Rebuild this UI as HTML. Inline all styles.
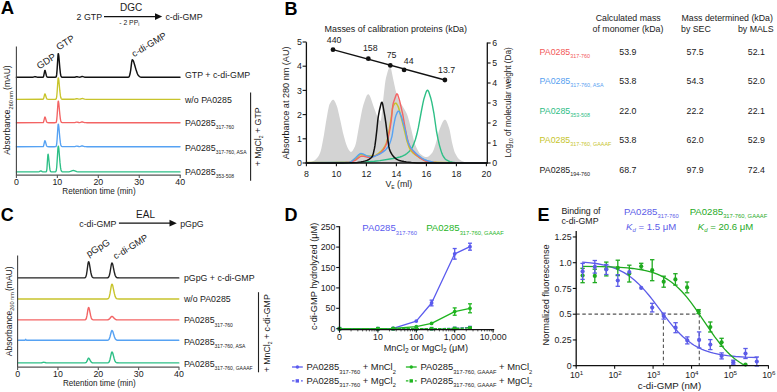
<!DOCTYPE html>
<html><head><meta charset="utf-8"><style>
html,body{margin:0;padding:0;background:#fff;width:777px;height:392px;overflow:hidden}
svg{display:block}
</style></head><body>
<svg width="777" height="392" viewBox="0 0 777 392" font-family="Liberation Sans, sans-serif">
<rect width="777" height="392" fill="#fff"/>
<text x="0.80" y="14.40" font-size="18.5" fill="#000" font-weight="bold">A</text>
<text x="76.60" y="19.80" font-size="8.8" fill="#1a1a1a" >2 GTP</text>
<line x1="104.00" y1="16.60" x2="157.00" y2="16.60" stroke="#111" stroke-width="1.2" />
<path d="M155,13.2 L162.2,16.6 L155,20 Z" fill="#111"/>
<text x="131.20" y="11.20" font-size="10" fill="#1a1a1a" text-anchor="middle" >DGC</text>
<text x="119.30" y="24.90" font-size="6.8" fill="#1a1a1a" >- 2 PP<tspan font-size="4.5" dy="1.4">i</tspan></text>
<text x="165.40" y="19.80" font-size="8.8" fill="#1a1a1a" >c-di-GMP</text>
<path d="M16.4,77.30 L32.2,77.29 L33.2,77.18 L35.0,76.60 L35.6,76.69 L36.9,77.14 L37.7,77.27 L42.8,77.27 L43.2,77.10 L43.6,76.37 L44.0,74.46 L44.7,70.77 L44.9,70.40 L45.1,70.58 L45.3,71.08 L46.5,75.98 L46.9,76.78 L47.3,77.13 L47.9,77.28 L49.0,77.30 L55.1,77.30 L55.9,77.14 L56.3,76.51 L56.7,74.42 L57.1,69.57 L58.0,55.23 L58.2,53.65 L58.4,53.64 L58.8,55.93 L59.8,67.82 L60.4,73.33 L60.8,75.41 L61.2,76.50 L61.6,77.01 L62.3,77.25 L73.7,77.28 L74.8,77.18 L76.4,76.76 L77.0,76.70 L78.8,77.10 L79.7,77.16 L80.5,77.00 L81.7,76.57 L82.3,76.50 L82.9,76.62 L84.6,77.17 L86.0,77.29 L126.8,77.30 L128.4,77.18 L129.0,76.80 L129.4,76.15 L130.0,74.04 L130.7,70.11 L131.7,61.86 L132.1,60.04 L132.3,59.80 L132.5,59.84 L132.9,60.20 L133.3,60.88 L133.7,61.86 L134.3,63.74 L136.2,70.33 L137.4,73.75 L138.0,74.93 L138.6,75.79 L139.5,76.53 L140.3,76.94 L141.5,77.20 L143.8,77.29 L180.0,77.30" stroke="#111" stroke-width="1.45" fill="none" stroke-linejoin="round" stroke-linecap="round" />
<path d="M16.4,99.30 L42.8,99.28 L43.2,99.15 L43.6,98.57 L44.7,94.19 L44.9,93.90 L45.1,94.04 L45.3,94.43 L46.5,98.27 L46.9,98.89 L47.3,99.17 L48.3,99.30 L54.7,99.30 L55.5,99.28 L55.9,99.16 L56.3,98.59 L56.7,96.69 L57.1,92.29 L58.0,79.27 L58.2,77.83 L58.4,77.82 L58.8,79.91 L59.8,90.70 L60.4,95.70 L60.8,97.58 L61.2,98.58 L61.6,99.03 L62.3,99.25 L73.7,99.28 L74.8,99.18 L76.4,98.76 L77.0,98.70 L78.8,99.10 L79.7,99.16 L80.5,99.00 L81.7,98.57 L82.3,98.50 L82.9,98.62 L84.6,99.17 L86.4,99.30 L180.0,99.30" stroke="#c8c42c" stroke-width="1.35" fill="none" stroke-linejoin="round" stroke-linecap="round" />
<path d="M16.4,122.70 L42.8,122.68 L43.2,122.54 L43.6,121.93 L44.7,117.31 L44.9,117.00 L45.1,117.15 L45.3,117.56 L46.5,121.61 L46.9,122.27 L47.3,122.56 L48.3,122.70 L54.5,122.70 L55.5,122.68 L55.9,122.56 L56.3,121.99 L56.7,120.09 L57.1,115.69 L58.0,102.67 L58.2,101.23 L58.4,101.22 L58.8,103.31 L59.8,114.10 L60.4,119.10 L60.8,120.98 L61.2,121.98 L61.6,122.43 L62.3,122.65 L73.7,122.68 L74.8,122.58 L76.4,122.16 L77.0,122.10 L78.8,122.50 L79.7,122.56 L80.5,122.40 L81.7,121.97 L82.3,121.90 L82.9,122.02 L84.6,122.57 L86.4,122.70 L180.0,122.70" stroke="#f36464" stroke-width="1.35" fill="none" stroke-linejoin="round" stroke-linecap="round" />
<path d="M16.4,146.70 L42.8,146.68 L43.2,146.53 L43.6,145.89 L44.7,141.02 L44.9,140.70 L45.1,140.85 L45.3,141.29 L46.5,145.55 L46.9,146.25 L47.3,146.55 L48.3,146.70 L54.5,146.70 L55.5,146.68 L55.9,146.55 L56.3,145.95 L56.7,143.96 L57.1,139.33 L58.0,125.65 L58.2,124.14 L58.4,124.13 L58.8,126.32 L59.8,137.66 L60.4,142.92 L60.8,144.89 L61.2,145.94 L61.6,146.42 L62.3,146.65 L73.7,146.68 L74.8,146.58 L76.4,146.16 L77.0,146.10 L78.8,146.50 L79.7,146.56 L80.5,146.40 L81.7,145.97 L82.3,145.90 L82.9,146.02 L84.6,146.57 L86.4,146.70 L180.0,146.70" stroke="#56a2f3" stroke-width="1.35" fill="none" stroke-linejoin="round" stroke-linecap="round" />
<path d="M16.4,171.90 L38.3,171.89 L39.3,171.70 L40.4,171.04 L40.8,170.90 L41.2,171.00 L42.2,171.66 L42.8,171.85 L45.5,171.90 L46.1,171.81 L46.3,171.66 L46.5,171.30 L46.9,169.17 L47.7,157.12 L47.9,154.82 L48.1,154.22 L48.3,154.85 L48.5,156.28 L49.6,167.26 L50.0,169.91 L50.4,171.21 L50.8,171.70 L51.4,171.88 L54.9,171.89 L55.3,171.86 L55.7,171.69 L56.1,171.02 L56.3,170.27 L56.7,167.24 L57.1,161.53 L57.8,150.35 L58.0,147.63 L58.2,146.23 L58.4,146.23 L58.8,148.41 L60.0,162.66 L60.6,167.92 L61.0,169.92 L61.4,171.02 L61.9,171.55 L62.5,171.83 L66.6,171.90 L69.0,171.80 L70.5,171.45 L72.5,170.54 L73.3,170.40 L74.1,170.54 L76.8,171.65 L77.8,171.82 L79.3,171.89 L180.0,171.90" stroke="#2dbf86" stroke-width="1.35" fill="none" stroke-linejoin="round" stroke-linecap="round" />
<line x1="16.40" y1="46.60" x2="16.40" y2="175.60" stroke="#444" stroke-width="1.1" />
<line x1="16.40" y1="175.10" x2="180.70" y2="175.10" stroke="#555" stroke-width="1.3" />
<line x1="16.40" y1="175.10" x2="16.40" y2="177.90" stroke="#555" stroke-width="1.1" />
<text x="16.40" y="184.50" font-size="8.8" fill="#1a1a1a" text-anchor="middle" >0</text>
<line x1="57.35" y1="175.10" x2="57.35" y2="177.90" stroke="#555" stroke-width="1.1" />
<text x="57.35" y="184.50" font-size="8.8" fill="#1a1a1a" text-anchor="middle" >10</text>
<line x1="98.30" y1="175.10" x2="98.30" y2="177.90" stroke="#555" stroke-width="1.1" />
<text x="98.30" y="184.50" font-size="8.8" fill="#1a1a1a" text-anchor="middle" >20</text>
<line x1="139.25" y1="175.10" x2="139.25" y2="177.90" stroke="#555" stroke-width="1.1" />
<text x="139.25" y="184.50" font-size="8.8" fill="#1a1a1a" text-anchor="middle" >30</text>
<line x1="180.20" y1="175.10" x2="180.20" y2="177.90" stroke="#555" stroke-width="1.1" />
<text x="180.20" y="184.50" font-size="8.8" fill="#1a1a1a" text-anchor="middle" >40</text>
<text x="62.30" y="193.80" font-size="8.8" fill="#1a1a1a" textLength="73.3" lengthAdjust="spacingAndGlyphs">Retention time (min)</text>
<text transform="translate(10.2,154.8) rotate(-90)" font-size="8.5" fill="#1a1a1a">Absorbance<tspan font-size="5.5" dy="2.3">260 nm</tspan><tspan dy="-2.3" dx="1.2">(mAU)</tspan></text>
<text transform="translate(39.2,69.4) rotate(-32)" font-size="9.5" fill="#1a1a1a">GDP</text>
<text transform="translate(58.8,50.6) rotate(-32)" font-size="9.5" fill="#1a1a1a">GTP</text>
<text transform="translate(134,57.2) rotate(-31)" font-size="9.2" fill="#1a1a1a">c-di-GMP</text>
<text x="185.00" y="78.40" font-size="8.8" fill="#1a1a1a" >GTP + c-di-GMP</text>
<text x="185.00" y="102.90" font-size="8.8" fill="#1a1a1a" >w/o PA0285</text>
<text x="185.00" y="126.20" font-size="8.8" fill="#1a1a1a" >PA0285<tspan font-size="5" dy="3.2">317-760</tspan></text>
<text x="185.00" y="151.00" font-size="8.8" fill="#1a1a1a" >PA0285<tspan font-size="5" dy="3.4">317-760, ASA</tspan></text>
<text x="185.00" y="174.60" font-size="8.8" fill="#1a1a1a" >PA0285<tspan font-size="5" dy="3.4">353-508</tspan></text>
<line x1="250.60" y1="92.50" x2="250.60" y2="180.80" stroke="#222" stroke-width="1.1" />
<text transform="translate(261,166.3) rotate(-90)" font-size="8.8" fill="#1a1a1a">+ MgCl<tspan font-size="5" dy="2">2</tspan><tspan dy="-2"> + GTP</tspan></text>
<text x="284.40" y="14.60" font-size="18" fill="#000" font-weight="bold">B</text>
<path d="M306.4,163.00 L308.4,162.80 L310.4,162.27 L313.4,161.11 L314.9,160.19 L316.4,158.86 L317.9,157.11 L318.9,155.45 L319.9,153.31 L320.4,152.03 L320.9,150.37 L321.4,148.30 L322.4,143.34 L323.9,135.20 L325.9,122.59 L327.9,111.01 L328.9,106.19 L329.4,104.62 L330.4,102.64 L331.4,101.03 L331.9,100.42 L332.4,99.99 L332.9,99.74 L333.4,99.73 L333.9,100.05 L334.4,100.68 L335.4,102.58 L336.9,106.19 L337.4,107.84 L338.4,111.94 L340.4,120.78 L342.9,132.42 L343.9,136.36 L345.4,141.65 L346.4,144.80 L347.4,147.34 L348.4,149.15 L349.4,150.73 L349.9,151.34 L350.4,151.75 L350.9,151.90 L351.4,151.78 L351.9,151.45 L352.4,150.93 L352.9,150.24 L353.9,148.49 L354.9,146.42 L355.4,145.12 L355.9,143.26 L356.4,140.94 L358.9,126.82 L361.4,113.31 L362.4,108.42 L363.4,104.77 L365.4,98.64 L366.4,96.21 L366.9,95.30 L367.4,94.63 L367.9,94.26 L368.4,94.23 L368.9,94.55 L369.4,95.19 L369.9,96.10 L370.9,98.55 L373.9,107.58 L376.9,115.41 L377.9,117.50 L379.4,120.11 L379.9,120.71 L380.4,120.99 L380.9,120.13 L381.4,117.04 L382.9,102.21 L384.9,84.60 L385.4,80.89 L385.9,78.20 L386.4,76.19 L387.9,70.85 L388.9,68.33 L389.4,67.52 L389.9,67.08 L390.4,67.11 L390.9,68.19 L391.4,70.15 L392.9,77.76 L395.4,89.49 L396.9,95.18 L397.9,98.35 L398.4,99.60 L399.4,101.55 L400.4,103.12 L402.4,105.98 L404.4,109.30 L405.9,111.98 L406.9,114.12 L407.9,116.84 L408.9,120.28 L411.4,129.90 L413.9,140.76 L414.9,144.04 L416.4,147.59 L417.9,150.61 L419.4,152.95 L420.4,154.05 L422.4,155.54 L423.9,156.43 L425.4,156.98 L426.4,157.10 L426.9,157.06 L427.9,156.73 L428.4,156.45 L429.4,155.72 L430.9,154.27 L432.4,152.49 L432.9,151.62 L433.9,149.23 L435.4,144.66 L436.9,139.58 L438.4,133.10 L438.9,131.20 L439.4,129.74 L441.4,124.68 L442.4,122.51 L443.4,120.85 L443.9,120.26 L444.4,119.87 L444.9,119.70 L445.4,119.81 L445.9,120.25 L446.4,120.98 L446.9,121.95 L447.9,124.45 L449.4,128.92 L449.9,131.00 L451.9,142.02 L453.4,148.07 L454.4,151.39 L454.9,152.68 L456.4,155.60 L457.4,157.18 L458.4,158.44 L459.4,159.38 L460.4,160.12 L461.4,160.75 L462.4,161.25 L464.4,161.92 L466.9,162.44 L469.9,162.85 L471.4,162.99 L486.9,163.00 Z" fill="#d3d3d3" stroke="none"/>
<path d="M306.4,163.00 L340.4,163.00 L346.9,162.91 L359.4,162.37 L374.4,161.30 L379.9,160.61 L392.9,158.51 L396.9,157.76 L399.9,157.03 L401.4,156.54 L403.4,155.65 L405.4,154.56 L406.9,153.48 L408.9,151.79 L410.4,150.20 L411.4,148.86 L412.4,147.09 L413.4,144.89 L415.4,139.50 L416.9,134.04 L418.4,127.43 L421.4,111.00 L422.9,103.34 L423.9,98.92 L425.9,92.66 L426.4,91.46 L426.9,90.60 L427.4,90.21 L427.9,90.40 L428.4,91.13 L428.9,92.27 L430.9,98.54 L431.9,102.71 L433.9,113.26 L436.4,130.75 L437.9,138.60 L439.4,145.08 L440.9,150.36 L441.9,153.35 L442.4,154.58 L443.4,156.48 L444.9,158.66 L445.9,159.57 L446.9,160.20 L448.4,160.99 L449.9,161.59 L452.4,162.19 L456.9,162.84 L459.9,163.00 L486.9,163.00" stroke="#2dbf86" stroke-width="1.4" fill="none" stroke-linejoin="round" stroke-linecap="round" />
<path d="M306.4,162.50 L330.4,162.38 L349.4,161.99 L350.4,161.81 L351.4,161.45 L352.9,160.69 L354.9,159.50 L355.9,158.68 L358.9,155.28 L359.9,154.57 L360.4,154.41 L361.4,154.45 L362.4,154.61 L366.9,155.89 L367.9,156.05 L368.9,156.10 L371.9,155.93 L374.9,155.49 L375.9,155.12 L377.4,154.24 L378.9,153.10 L380.9,151.39 L382.9,149.20 L383.9,147.79 L384.9,146.11 L385.9,144.10 L386.4,142.76 L387.4,138.88 L389.4,128.93 L391.4,116.63 L392.4,109.08 L392.9,107.04 L393.9,104.81 L394.4,103.99 L394.9,103.41 L395.4,103.13 L395.9,103.17 L396.4,103.58 L396.9,104.25 L397.9,106.00 L398.4,107.16 L398.9,108.71 L401.9,120.07 L404.9,132.20 L406.9,140.73 L408.4,145.30 L409.4,147.86 L410.4,149.84 L411.4,151.22 L412.4,152.31 L415.4,154.82 L418.4,156.99 L420.4,158.19 L425.4,160.72 L427.4,161.50 L429.4,161.95 L440.9,162.40 L454.9,162.74 L469.9,162.94 L486.9,163.00" stroke="#c8c42c" stroke-width="1.5" fill="none" stroke-linejoin="round" stroke-linecap="round" />
<path d="M306.4,162.80 L333.4,162.59 L345.4,162.42 L349.9,162.23 L351.9,161.72 L355.4,160.25 L356.4,159.58 L359.4,157.10 L360.9,156.26 L361.9,156.10 L362.9,156.18 L367.9,157.26 L368.9,157.30 L370.4,157.15 L372.9,156.55 L376.4,155.39 L378.4,154.40 L380.4,153.07 L381.4,152.17 L382.4,151.05 L383.4,149.69 L384.4,148.09 L385.4,146.23 L386.4,143.99 L387.4,140.78 L388.9,134.42 L390.4,126.50 L391.4,119.30 L392.4,108.67 L392.9,104.89 L393.4,102.78 L393.9,101.16 L395.9,95.48 L396.4,94.36 L396.9,93.82 L397.4,94.10 L397.9,95.17 L399.4,100.00 L399.9,101.95 L402.9,115.10 L404.9,126.80 L406.4,134.29 L407.9,140.85 L408.9,144.25 L409.4,145.50 L410.4,147.48 L411.4,149.13 L412.4,150.54 L413.9,152.32 L415.9,154.43 L417.9,156.33 L419.4,157.57 L421.9,159.24 L424.4,160.56 L425.9,161.21 L427.9,161.78 L432.4,162.36 L436.4,162.53 L454.4,162.82 L486.9,163.00" stroke="#f36464" stroke-width="1.4" fill="none" stroke-linejoin="round" stroke-linecap="round" />
<path d="M306.4,162.60 L330.9,162.53 L349.4,162.29 L350.4,161.99 L351.9,160.98 L355.9,157.55 L358.9,154.59 L359.9,153.88 L360.4,153.65 L360.9,153.52 L361.9,153.58 L362.9,153.92 L365.4,155.21 L366.4,155.60 L369.9,156.62 L371.9,156.90 L372.9,156.84 L374.4,156.46 L378.4,154.73 L379.9,153.97 L381.9,152.75 L383.4,151.66 L384.9,150.40 L385.9,149.41 L386.9,148.24 L387.9,146.86 L388.9,145.17 L389.4,144.14 L390.9,140.14 L391.9,136.59 L392.4,133.82 L393.4,127.13 L394.4,121.78 L395.4,117.19 L395.9,115.60 L396.9,113.16 L397.4,112.16 L397.9,111.44 L398.4,111.11 L398.9,111.28 L399.4,111.94 L399.9,112.94 L401.4,116.66 L405.4,130.67 L405.9,132.64 L406.9,137.93 L407.4,139.84 L408.4,142.82 L409.9,146.15 L410.9,147.80 L411.9,149.13 L412.9,150.24 L416.4,153.70 L418.9,155.92 L421.4,157.77 L422.9,158.74 L424.9,159.76 L426.9,160.47 L433.9,162.32 L435.4,162.59 L457.9,162.91 L486.9,163.00" stroke="#56a2f3" stroke-width="1.4" fill="none" stroke-linejoin="round" stroke-linecap="round" />
<path d="M306.4,163.00 L342.4,162.99 L349.4,162.81 L357.4,162.39 L360.9,161.90 L363.4,161.39 L365.4,160.87 L366.9,160.35 L368.4,159.70 L369.4,159.16 L370.4,158.47 L371.4,157.53 L372.4,156.19 L372.9,154.88 L373.4,153.12 L374.4,148.70 L374.9,145.92 L375.9,138.46 L376.9,129.53 L377.9,119.27 L378.4,115.91 L379.4,110.54 L380.9,104.36 L381.4,102.82 L381.9,102.20 L382.4,103.13 L382.9,105.41 L384.9,116.72 L385.9,123.46 L388.4,143.66 L388.9,146.93 L389.4,149.02 L390.4,151.69 L390.9,152.73 L391.9,154.40 L392.9,155.72 L394.4,157.39 L395.4,158.30 L396.9,159.37 L397.9,159.91 L399.4,160.52 L401.4,161.05 L403.9,161.56 L406.4,161.93 L411.4,162.48 L417.4,162.94 L486.9,163.00" stroke="#111" stroke-width="1.5" fill="none" stroke-linejoin="round" stroke-linecap="round" />
<line x1="333.00" y1="49.70" x2="444.90" y2="80.00" stroke="#111" stroke-width="1.3" />
<circle cx="333.0" cy="49.7" r="2.4" fill="#111"/>
<circle cx="368.3" cy="58.7" r="2.4" fill="#111"/>
<circle cx="390.3" cy="65.4" r="2.4" fill="#111"/>
<circle cx="404.1" cy="69.9" r="2.4" fill="#111"/>
<circle cx="444.9" cy="80.0" r="2.4" fill="#111"/>
<text x="326.80" y="43.40" font-size="8.8" fill="#1a1a1a" >440</text>
<text x="362.90" y="51.00" font-size="8.8" fill="#1a1a1a" >158</text>
<text x="386.70" y="57.80" font-size="8.8" fill="#1a1a1a" >75</text>
<text x="403.80" y="63.80" font-size="8.8" fill="#1a1a1a" >44</text>
<text x="438.00" y="73.20" font-size="8.8" fill="#1a1a1a" >13.7</text>
<text x="324.50" y="31.70" font-size="8.95" fill="#1a1a1a" >Masses of calibration proteins (kDa)</text>
<line x1="306.40" y1="42.20" x2="306.40" y2="163.60" stroke="#111" stroke-width="1.3" />
<line x1="305.80" y1="163.00" x2="487.30" y2="163.00" stroke="#111" stroke-width="1.3" />
<line x1="487.30" y1="42.40" x2="487.30" y2="163.60" stroke="#111" stroke-width="1.3" />
<line x1="302.60" y1="163.00" x2="306.40" y2="163.00" stroke="#111" stroke-width="1.1" />
<text x="301.80" y="166.10" font-size="8.8" fill="#1a1a1a" text-anchor="end" >0</text>
<line x1="302.60" y1="138.80" x2="306.40" y2="138.80" stroke="#111" stroke-width="1.1" />
<text x="301.80" y="141.90" font-size="8.8" fill="#1a1a1a" text-anchor="end" >1</text>
<line x1="302.60" y1="114.60" x2="306.40" y2="114.60" stroke="#111" stroke-width="1.1" />
<text x="301.80" y="117.70" font-size="8.8" fill="#1a1a1a" text-anchor="end" >2</text>
<line x1="302.60" y1="90.40" x2="306.40" y2="90.40" stroke="#111" stroke-width="1.1" />
<text x="301.80" y="93.50" font-size="8.8" fill="#1a1a1a" text-anchor="end" >3</text>
<line x1="302.60" y1="66.20" x2="306.40" y2="66.20" stroke="#111" stroke-width="1.1" />
<text x="301.80" y="69.30" font-size="8.8" fill="#1a1a1a" text-anchor="end" >4</text>
<line x1="302.60" y1="42.00" x2="306.40" y2="42.00" stroke="#111" stroke-width="1.1" />
<text x="301.80" y="45.10" font-size="8.8" fill="#1a1a1a" text-anchor="end" >5</text>
<line x1="487.30" y1="163.00" x2="490.60" y2="163.00" stroke="#111" stroke-width="1.1" />
<text x="492.20" y="166.10" font-size="8.8" fill="#1a1a1a" >0</text>
<line x1="487.30" y1="143.00" x2="490.60" y2="143.00" stroke="#111" stroke-width="1.1" />
<text x="492.20" y="146.10" font-size="8.8" fill="#1a1a1a" >1</text>
<line x1="487.30" y1="123.00" x2="490.60" y2="123.00" stroke="#111" stroke-width="1.1" />
<text x="492.20" y="126.10" font-size="8.8" fill="#1a1a1a" >2</text>
<line x1="487.30" y1="103.00" x2="490.60" y2="103.00" stroke="#111" stroke-width="1.1" />
<text x="492.20" y="106.10" font-size="8.8" fill="#1a1a1a" >3</text>
<line x1="487.30" y1="83.00" x2="490.60" y2="83.00" stroke="#111" stroke-width="1.1" />
<text x="492.20" y="86.10" font-size="8.8" fill="#1a1a1a" >4</text>
<line x1="487.30" y1="63.00" x2="490.60" y2="63.00" stroke="#111" stroke-width="1.1" />
<text x="492.20" y="66.10" font-size="8.8" fill="#1a1a1a" >5</text>
<line x1="487.30" y1="43.00" x2="490.60" y2="43.00" stroke="#111" stroke-width="1.1" />
<text x="492.20" y="46.10" font-size="8.8" fill="#1a1a1a" >6</text>
<line x1="306.40" y1="163.00" x2="306.40" y2="166.20" stroke="#111" stroke-width="1.1" />
<text x="306.40" y="176.60" font-size="8.8" fill="#1a1a1a" text-anchor="middle" >8</text>
<line x1="336.40" y1="163.00" x2="336.40" y2="166.20" stroke="#111" stroke-width="1.1" />
<text x="336.40" y="176.60" font-size="8.8" fill="#1a1a1a" text-anchor="middle" >10</text>
<line x1="366.40" y1="163.00" x2="366.40" y2="166.20" stroke="#111" stroke-width="1.1" />
<text x="366.40" y="176.60" font-size="8.8" fill="#1a1a1a" text-anchor="middle" >12</text>
<line x1="396.40" y1="163.00" x2="396.40" y2="166.20" stroke="#111" stroke-width="1.1" />
<text x="396.40" y="176.60" font-size="8.8" fill="#1a1a1a" text-anchor="middle" >14</text>
<line x1="426.40" y1="163.00" x2="426.40" y2="166.20" stroke="#111" stroke-width="1.1" />
<text x="426.40" y="176.60" font-size="8.8" fill="#1a1a1a" text-anchor="middle" >16</text>
<line x1="456.40" y1="163.00" x2="456.40" y2="166.20" stroke="#111" stroke-width="1.1" />
<text x="456.40" y="176.60" font-size="8.8" fill="#1a1a1a" text-anchor="middle" >18</text>
<line x1="486.40" y1="163.00" x2="486.40" y2="166.20" stroke="#111" stroke-width="1.1" />
<text x="486.40" y="176.60" font-size="8.8" fill="#1a1a1a" text-anchor="middle" >20</text>
<text x="385.40" y="186.70" font-size="8.8" fill="#1a1a1a" >V<tspan font-size="5" dy="2">E</tspan><tspan dy="-2"> (ml)</tspan></text>
<text transform="translate(289.2,159.2) rotate(-90)" font-size="9.1" fill="#1a1a1a">Absorbance at 280 nm (AU)</text>
<text transform="translate(510.6,157.5) rotate(-90)" font-size="8.2" fill="#1a1a1a">Log<tspan font-size="5" dy="2">10</tspan><tspan dy="-2"> of molecular weight (Da)</tspan></text>
<text x="628.20" y="20.70" font-size="8.8" fill="#1a1a1a" text-anchor="middle" >Calculated mass</text>
<text x="628.00" y="31.60" font-size="8.8" fill="#1a1a1a" text-anchor="middle" >of monomer (kDa)</text>
<text x="681.50" y="20.70" font-size="8.8" fill="#1a1a1a" >Mass determined (kDa)</text>
<text x="681.00" y="31.60" font-size="8.8" fill="#1a1a1a" >by SEC</text>
<text x="737.90" y="31.60" font-size="8.8" fill="#1a1a1a" >by MALS</text>
<text x="539.60" y="54.50" font-size="8.8" fill="#f25858" >PA0285<tspan font-size="5.4" dy="3.2">317-760</tspan></text>
<text x="627.80" y="54.50" font-size="8.8" fill="#1a1a1a" text-anchor="middle" >53.9</text>
<text x="695.10" y="54.50" font-size="8.8" fill="#1a1a1a" text-anchor="middle" >57.5</text>
<text x="756.40" y="54.50" font-size="8.8" fill="#1a1a1a" text-anchor="middle" >52.1</text>
<text x="539.60" y="84.05" font-size="8.8" fill="#56a0f0" >PA0285<tspan font-size="5.4" dy="3.2">317-760, ASA</tspan></text>
<text x="627.80" y="84.05" font-size="8.8" fill="#1a1a1a" text-anchor="middle" >53.8</text>
<text x="695.10" y="84.05" font-size="8.8" fill="#1a1a1a" text-anchor="middle" >54.3</text>
<text x="756.40" y="84.05" font-size="8.8" fill="#1a1a1a" text-anchor="middle" >52.0</text>
<text x="539.60" y="113.60" font-size="8.8" fill="#2dbd85" >PA0285<tspan font-size="5.4" dy="3.2">353-508</tspan></text>
<text x="627.80" y="113.60" font-size="8.8" fill="#1a1a1a" text-anchor="middle" >22.0</text>
<text x="695.10" y="113.60" font-size="8.8" fill="#1a1a1a" text-anchor="middle" >22.2</text>
<text x="756.40" y="113.60" font-size="8.8" fill="#1a1a1a" text-anchor="middle" >22.1</text>
<text x="539.60" y="143.15" font-size="8.8" fill="#c6c42a" >PA0285<tspan font-size="5.4" dy="3.2">317-760, GAAAF</tspan></text>
<text x="627.80" y="143.15" font-size="8.8" fill="#1a1a1a" text-anchor="middle" >53.8</text>
<text x="695.10" y="143.15" font-size="8.8" fill="#1a1a1a" text-anchor="middle" >62.0</text>
<text x="756.40" y="143.15" font-size="8.8" fill="#1a1a1a" text-anchor="middle" >52.9</text>
<text x="539.60" y="172.70" font-size="8.8" fill="#1a1a1a" >PA0285<tspan font-size="5.4" dy="3.2">194-760</tspan></text>
<text x="627.80" y="172.70" font-size="8.8" fill="#1a1a1a" text-anchor="middle" >68.7</text>
<text x="695.10" y="172.70" font-size="8.8" fill="#1a1a1a" text-anchor="middle" >97.9</text>
<text x="756.40" y="172.70" font-size="8.8" fill="#1a1a1a" text-anchor="middle" >72.4</text>
<text x="0.80" y="221.10" font-size="18" fill="#000" font-weight="bold">C</text>
<text x="79.30" y="227.00" font-size="8.8" fill="#1a1a1a" >c-di-GMP</text>
<line x1="118.90" y1="223.20" x2="171.00" y2="223.20" stroke="#111" stroke-width="1.2" />
<path d="M169.5,219.8 L176.8,223.2 L169.5,226.6 Z" fill="#111"/>
<text x="145.50" y="218.00" font-size="10" fill="#1a1a1a" text-anchor="middle" >EAL</text>
<text x="180.20" y="227.00" font-size="8.8" fill="#1a1a1a" >pGpG</text>
<path d="M17.6,277.90 L83.0,277.90 L84.8,277.79 L85.4,277.44 L85.8,276.84 L86.4,274.88 L87.0,271.24 L88.0,263.60 L88.4,261.92 L88.6,261.70 L88.8,261.84 L89.0,262.25 L89.4,263.80 L90.8,272.22 L91.6,275.59 L92.0,276.57 L92.4,277.19 L93.1,277.65 L93.7,277.83 L95.1,277.90 L106.6,277.89 L107.6,277.79 L108.2,277.53 L108.8,276.81 L109.4,275.24 L110.0,272.53 L111.2,265.24 L111.6,263.60 L111.8,263.15 L112.0,263.00 L112.2,263.11 L112.4,263.42 L112.8,264.60 L114.4,272.53 L115.2,275.47 L115.7,276.40 L116.1,277.02 L116.7,277.55 L117.3,277.78 L119.5,277.90 L178.8,277.90" stroke="#222" stroke-width="1.4" fill="none" stroke-linejoin="round" stroke-linecap="round" />
<path d="M17.6,299.00 L105.4,299.00 L107.4,298.93 L108.0,298.75 L108.6,298.22 L109.0,297.51 L109.4,296.36 L110.0,293.67 L111.2,286.43 L111.6,284.79 L111.8,284.35 L112.0,284.20 L112.2,284.30 L112.4,284.61 L112.8,285.79 L114.4,293.67 L115.2,296.59 L115.7,297.51 L116.1,298.13 L116.7,298.65 L117.3,298.88 L119.5,299.00 L178.8,299.00" stroke="#c8c42c" stroke-width="1.4" fill="none" stroke-linejoin="round" stroke-linecap="round" />
<path d="M17.6,319.90 L83.4,319.90 L85.0,319.83 L85.4,319.69 L85.8,319.36 L86.4,318.10 L87.0,315.43 L88.0,309.16 L88.4,307.70 L88.6,307.50 L88.8,307.63 L89.0,308.00 L89.4,309.37 L90.6,315.43 L91.2,317.69 L91.6,318.65 L92.0,319.25 L92.7,319.69 L93.3,319.84 L105.8,319.90 L107.8,319.79 L108.6,319.53 L109.2,319.14 L109.8,318.54 L111.2,316.81 L111.6,316.51 L112.0,316.40 L112.4,316.49 L112.8,316.73 L114.6,318.67 L115.4,319.31 L116.5,319.72 L117.7,319.87 L178.8,319.90" stroke="#f36464" stroke-width="1.4" fill="none" stroke-linejoin="round" stroke-linecap="round" />
<path d="M17.6,340.30 L24.7,340.29 L25.1,340.13 L25.7,339.30 L26.3,340.13 L26.5,340.26 L26.9,340.30 L107.4,340.26 L108.0,340.13 L108.6,339.79 L109.0,339.31 L109.4,338.55 L110.0,336.77 L111.2,331.98 L111.6,330.89 L111.8,330.60 L112.0,330.50 L112.4,330.77 L112.8,331.55 L114.4,336.77 L115.2,338.70 L115.7,339.31 L116.1,339.72 L116.7,340.07 L117.3,340.22 L119.5,340.30 L178.8,340.30" stroke="#56a2f3" stroke-width="1.4" fill="none" stroke-linejoin="round" stroke-linecap="round" />
<path d="M17.6,362.90 L40.4,362.89 L41.6,362.79 L43.2,362.37 L43.8,362.30 L44.4,362.37 L46.0,362.79 L47.5,362.89 L85.0,362.87 L85.8,362.69 L86.4,362.22 L87.0,361.21 L88.0,358.83 L88.4,358.27 L88.6,358.20 L89.0,358.39 L89.4,358.91 L90.6,361.21 L91.2,362.06 L91.8,362.56 L92.4,362.78 L94.3,362.90 L107.6,362.86 L108.2,362.73 L108.6,362.50 L109.0,362.08 L109.4,361.33 L110.0,359.44 L111.4,353.07 L111.8,352.12 L112.0,352.00 L112.2,352.08 L112.4,352.34 L112.8,353.28 L114.2,358.66 L115.0,361.02 L115.4,361.76 L115.9,362.25 L116.5,362.65 L117.1,362.82 L119.3,362.90 L178.8,362.90" stroke="#2dbf86" stroke-width="1.4" fill="none" stroke-linejoin="round" stroke-linecap="round" />
<line x1="17.60" y1="255.40" x2="17.60" y2="367.80" stroke="#444" stroke-width="1.1" />
<line x1="17.60" y1="367.20" x2="179.30" y2="367.20" stroke="#555" stroke-width="1.3" />
<line x1="17.60" y1="367.20" x2="17.60" y2="369.90" stroke="#555" stroke-width="1.1" />
<text x="17.60" y="377.40" font-size="8.8" fill="#1a1a1a" text-anchor="middle" >0</text>
<line x1="57.95" y1="367.20" x2="57.95" y2="369.90" stroke="#555" stroke-width="1.1" />
<text x="57.95" y="377.40" font-size="8.8" fill="#1a1a1a" text-anchor="middle" >10</text>
<line x1="98.30" y1="367.20" x2="98.30" y2="369.90" stroke="#555" stroke-width="1.1" />
<text x="98.30" y="377.40" font-size="8.8" fill="#1a1a1a" text-anchor="middle" >20</text>
<line x1="138.65" y1="367.20" x2="138.65" y2="369.90" stroke="#555" stroke-width="1.1" />
<text x="138.65" y="377.40" font-size="8.8" fill="#1a1a1a" text-anchor="middle" >30</text>
<line x1="179.00" y1="367.20" x2="179.00" y2="369.90" stroke="#555" stroke-width="1.1" />
<text x="179.00" y="377.40" font-size="8.8" fill="#1a1a1a" text-anchor="middle" >40</text>
<text x="62.90" y="385.60" font-size="8.8" fill="#1a1a1a" textLength="72.7" lengthAdjust="spacingAndGlyphs">Retention time (min)</text>
<text transform="translate(11.6,356.2) rotate(-90)" font-size="8.5" fill="#1a1a1a">Absorbance<tspan font-size="5.6" dy="2.3">260 nm</tspan><tspan dy="-2.3" dx="1.2">(mAU)</tspan></text>
<text transform="translate(88.8,257.2) rotate(-31)" font-size="9.5" fill="#1a1a1a">pGpG</text>
<text transform="translate(115.6,259.4) rotate(-31)" font-size="9.2" fill="#1a1a1a">c-di-GMP</text>
<text x="183.90" y="281.40" font-size="8.8" fill="#1a1a1a" >pGpG + c-di-GMP</text>
<text x="183.90" y="302.00" font-size="8.8" fill="#1a1a1a" >w/o PA0285</text>
<text x="183.90" y="323.40" font-size="8.8" fill="#1a1a1a" >PA0285<tspan font-size="5" dy="3.2">317-760</tspan></text>
<text x="183.90" y="344.80" font-size="8.8" fill="#1a1a1a" >PA0285<tspan font-size="5" dy="3.4">317-760, ASA</tspan></text>
<text x="183.90" y="366.80" font-size="8.8" fill="#1a1a1a" >PA0285<tspan font-size="5" dy="3.4">317-760, GAAAF</tspan></text>
<line x1="258.50" y1="292.20" x2="258.50" y2="372.30" stroke="#222" stroke-width="1.1" />
<text transform="translate(270,372.3) rotate(-90)" font-size="8.8" fill="#1a1a1a">+ MnCl<tspan font-size="5" dy="2">2</tspan><tspan dy="-2"> + c-di-GMP</tspan></text>
<text x="284.40" y="221.20" font-size="18" fill="#000" font-weight="bold">D</text>
<path d="M339.5,328.70 L377.9,328.70 L393.2,328.29 L416.3,321.11 L431.6,303.00 L454.7,253.83 L470.0,246.69" stroke="#5a5aee" stroke-width="1.3" fill="none" stroke-linejoin="round" stroke-linecap="round" />
<circle cx="339.50" cy="328.70" r="1.9" fill="#5a5aee"/>
<circle cx="377.90" cy="328.70" r="1.9" fill="#5a5aee"/>
<circle cx="393.18" cy="328.29" r="1.9" fill="#5a5aee"/>
<circle cx="416.30" cy="321.11" r="1.9" fill="#5a5aee"/>
<circle cx="431.58" cy="303.00" r="1.9" fill="#5a5aee"/>
<line x1="431.58" y1="300.14" x2="431.58" y2="305.85" stroke="#5a5aee" stroke-width="1.3" />
<line x1="429.58" y1="300.14" x2="433.58" y2="300.14" stroke="#5a5aee" stroke-width="1.3" />
<line x1="429.58" y1="305.85" x2="433.58" y2="305.85" stroke="#5a5aee" stroke-width="1.3" />
<circle cx="454.70" cy="253.83" r="1.9" fill="#5a5aee"/>
<line x1="454.70" y1="248.53" x2="454.70" y2="259.14" stroke="#5a5aee" stroke-width="1.3" />
<line x1="452.70" y1="248.53" x2="456.70" y2="248.53" stroke="#5a5aee" stroke-width="1.3" />
<line x1="452.70" y1="259.14" x2="456.70" y2="259.14" stroke="#5a5aee" stroke-width="1.3" />
<circle cx="469.98" cy="246.69" r="1.9" fill="#5a5aee"/>
<line x1="469.98" y1="243.22" x2="469.98" y2="250.16" stroke="#5a5aee" stroke-width="1.3" />
<line x1="467.98" y1="243.22" x2="471.98" y2="243.22" stroke="#5a5aee" stroke-width="1.3" />
<line x1="467.98" y1="250.16" x2="471.98" y2="250.16" stroke="#5a5aee" stroke-width="1.3" />
<path d="M339.5,328.70 L377.9,328.70 L393.2,328.50 L416.3,326.66 L431.6,323.40 L454.7,311.56 L470.0,308.30" stroke="#1fb51f" stroke-width="1.3" fill="none" stroke-linejoin="round" stroke-linecap="round" />
<circle cx="339.50" cy="328.70" r="1.9" fill="#1fb51f"/>
<circle cx="377.90" cy="328.70" r="1.9" fill="#1fb51f"/>
<circle cx="393.18" cy="328.50" r="1.9" fill="#1fb51f"/>
<circle cx="416.30" cy="326.66" r="1.9" fill="#1fb51f"/>
<circle cx="431.58" cy="323.40" r="1.9" fill="#1fb51f"/>
<circle cx="454.70" cy="311.56" r="1.9" fill="#1fb51f"/>
<line x1="454.70" y1="307.89" x2="454.70" y2="315.24" stroke="#1fb51f" stroke-width="1.3" />
<line x1="452.70" y1="307.89" x2="456.70" y2="307.89" stroke="#1fb51f" stroke-width="1.3" />
<line x1="452.70" y1="315.24" x2="456.70" y2="315.24" stroke="#1fb51f" stroke-width="1.3" />
<circle cx="469.98" cy="308.30" r="1.9" fill="#1fb51f"/>
<line x1="469.98" y1="303.81" x2="469.98" y2="312.79" stroke="#1fb51f" stroke-width="1.3" />
<line x1="467.98" y1="303.81" x2="471.98" y2="303.81" stroke="#1fb51f" stroke-width="1.3" />
<line x1="467.98" y1="312.79" x2="471.98" y2="312.79" stroke="#1fb51f" stroke-width="1.3" />
<path d="M339.5,328.70 L431.6,328.70 L454.7,328.37 L470.0,327.48" stroke="#5a5aee" stroke-width="1.3" fill="none" stroke-linejoin="round" stroke-linecap="round" stroke-dasharray="2.5,2"/>
<rect x="337.70" y="326.90" width="3.6" height="3.6" fill="#5a5aee"/>
<rect x="376.10" y="326.90" width="3.6" height="3.6" fill="#5a5aee"/>
<rect x="391.38" y="326.90" width="3.6" height="3.6" fill="#5a5aee"/>
<rect x="414.50" y="326.90" width="3.6" height="3.6" fill="#5a5aee"/>
<rect x="429.78" y="326.90" width="3.6" height="3.6" fill="#5a5aee"/>
<rect x="452.90" y="326.57" width="3.6" height="3.6" fill="#5a5aee"/>
<rect x="468.18" y="325.68" width="3.6" height="3.6" fill="#5a5aee"/>
<line x1="469.98" y1="326.86" x2="469.98" y2="328.09" stroke="#5a5aee" stroke-width="1.3" />
<line x1="467.98" y1="326.86" x2="471.98" y2="326.86" stroke="#5a5aee" stroke-width="1.3" />
<line x1="467.98" y1="328.09" x2="471.98" y2="328.09" stroke="#5a5aee" stroke-width="1.3" />
<path d="M339.5,328.70 L431.6,328.70 L454.7,328.50 L470.0,327.88" stroke="#1fb51f" stroke-width="1.3" fill="none" stroke-linejoin="round" stroke-linecap="round" stroke-dasharray="2.5,2"/>
<rect x="337.70" y="326.90" width="3.6" height="3.6" fill="#1fb51f"/>
<rect x="376.10" y="326.90" width="3.6" height="3.6" fill="#1fb51f"/>
<rect x="391.38" y="326.90" width="3.6" height="3.6" fill="#1fb51f"/>
<rect x="414.50" y="326.90" width="3.6" height="3.6" fill="#1fb51f"/>
<rect x="429.78" y="326.90" width="3.6" height="3.6" fill="#1fb51f"/>
<rect x="452.90" y="326.70" width="3.6" height="3.6" fill="#1fb51f"/>
<rect x="468.18" y="326.08" width="3.6" height="3.6" fill="#1fb51f"/>
<line x1="469.98" y1="327.48" x2="469.98" y2="328.29" stroke="#1fb51f" stroke-width="1.3" />
<line x1="467.98" y1="327.48" x2="471.98" y2="327.48" stroke="#1fb51f" stroke-width="1.3" />
<line x1="467.98" y1="328.29" x2="471.98" y2="328.29" stroke="#1fb51f" stroke-width="1.3" />
<line x1="339.50" y1="226.20" x2="339.50" y2="330.30" stroke="#111" stroke-width="1.3" />
<line x1="338.90" y1="329.70" x2="494.20" y2="329.70" stroke="#111" stroke-width="1.3" />
<line x1="336.20" y1="328.70" x2="339.50" y2="328.70" stroke="#111" stroke-width="1.1" />
<text x="335.40" y="331.80" font-size="8.8" fill="#1a1a1a" text-anchor="end" >0</text>
<line x1="336.20" y1="308.30" x2="339.50" y2="308.30" stroke="#111" stroke-width="1.1" />
<text x="335.40" y="311.40" font-size="8.8" fill="#1a1a1a" text-anchor="end" >50</text>
<line x1="336.20" y1="287.90" x2="339.50" y2="287.90" stroke="#111" stroke-width="1.1" />
<text x="335.40" y="291.00" font-size="8.8" fill="#1a1a1a" text-anchor="end" >100</text>
<line x1="336.20" y1="267.50" x2="339.50" y2="267.50" stroke="#111" stroke-width="1.1" />
<text x="335.40" y="270.60" font-size="8.8" fill="#1a1a1a" text-anchor="end" >150</text>
<line x1="336.20" y1="247.10" x2="339.50" y2="247.10" stroke="#111" stroke-width="1.1" />
<text x="335.40" y="250.20" font-size="8.8" fill="#1a1a1a" text-anchor="end" >200</text>
<line x1="336.20" y1="226.70" x2="339.50" y2="226.70" stroke="#111" stroke-width="1.1" />
<text x="335.40" y="229.80" font-size="8.8" fill="#1a1a1a" text-anchor="end" >250</text>
<line x1="339.50" y1="329.70" x2="339.50" y2="332.60" stroke="#111" stroke-width="1.1" />
<text x="339.50" y="339.60" font-size="8.8" fill="#1a1a1a" text-anchor="middle" >0</text>
<line x1="377.90" y1="329.70" x2="377.90" y2="332.60" stroke="#111" stroke-width="1.1" />
<text x="377.90" y="339.60" font-size="8.8" fill="#1a1a1a" text-anchor="middle" >10</text>
<line x1="416.30" y1="329.70" x2="416.30" y2="332.60" stroke="#111" stroke-width="1.1" />
<text x="416.30" y="339.60" font-size="8.8" fill="#1a1a1a" text-anchor="middle" >100</text>
<line x1="454.70" y1="329.70" x2="454.70" y2="332.60" stroke="#111" stroke-width="1.1" />
<text x="454.70" y="339.60" font-size="8.8" fill="#1a1a1a" text-anchor="middle" >1,000</text>
<line x1="493.10" y1="329.70" x2="493.10" y2="332.60" stroke="#111" stroke-width="1.1" />
<text x="493.10" y="339.60" font-size="8.8" fill="#1a1a1a" text-anchor="middle" >10,000</text>
<line x1="351.06" y1="329.70" x2="351.06" y2="331.40" stroke="#111" stroke-width="0.7" />
<line x1="357.82" y1="329.70" x2="357.82" y2="331.40" stroke="#111" stroke-width="0.7" />
<line x1="362.62" y1="329.70" x2="362.62" y2="331.40" stroke="#111" stroke-width="0.7" />
<line x1="366.34" y1="329.70" x2="366.34" y2="331.40" stroke="#111" stroke-width="0.7" />
<line x1="369.38" y1="329.70" x2="369.38" y2="331.40" stroke="#111" stroke-width="0.7" />
<line x1="371.95" y1="329.70" x2="371.95" y2="331.40" stroke="#111" stroke-width="0.7" />
<line x1="374.18" y1="329.70" x2="374.18" y2="331.40" stroke="#111" stroke-width="0.7" />
<line x1="376.14" y1="329.70" x2="376.14" y2="331.40" stroke="#111" stroke-width="0.7" />
<line x1="389.46" y1="329.70" x2="389.46" y2="331.40" stroke="#111" stroke-width="0.7" />
<line x1="396.22" y1="329.70" x2="396.22" y2="331.40" stroke="#111" stroke-width="0.7" />
<line x1="401.02" y1="329.70" x2="401.02" y2="331.40" stroke="#111" stroke-width="0.7" />
<line x1="404.74" y1="329.70" x2="404.74" y2="331.40" stroke="#111" stroke-width="0.7" />
<line x1="407.78" y1="329.70" x2="407.78" y2="331.40" stroke="#111" stroke-width="0.7" />
<line x1="410.35" y1="329.70" x2="410.35" y2="331.40" stroke="#111" stroke-width="0.7" />
<line x1="412.58" y1="329.70" x2="412.58" y2="331.40" stroke="#111" stroke-width="0.7" />
<line x1="414.54" y1="329.70" x2="414.54" y2="331.40" stroke="#111" stroke-width="0.7" />
<line x1="427.86" y1="329.70" x2="427.86" y2="331.40" stroke="#111" stroke-width="0.7" />
<line x1="434.62" y1="329.70" x2="434.62" y2="331.40" stroke="#111" stroke-width="0.7" />
<line x1="439.42" y1="329.70" x2="439.42" y2="331.40" stroke="#111" stroke-width="0.7" />
<line x1="443.14" y1="329.70" x2="443.14" y2="331.40" stroke="#111" stroke-width="0.7" />
<line x1="446.18" y1="329.70" x2="446.18" y2="331.40" stroke="#111" stroke-width="0.7" />
<line x1="448.75" y1="329.70" x2="448.75" y2="331.40" stroke="#111" stroke-width="0.7" />
<line x1="450.98" y1="329.70" x2="450.98" y2="331.40" stroke="#111" stroke-width="0.7" />
<line x1="452.94" y1="329.70" x2="452.94" y2="331.40" stroke="#111" stroke-width="0.7" />
<line x1="466.26" y1="329.70" x2="466.26" y2="331.40" stroke="#111" stroke-width="0.7" />
<line x1="473.02" y1="329.70" x2="473.02" y2="331.40" stroke="#111" stroke-width="0.7" />
<line x1="477.82" y1="329.70" x2="477.82" y2="331.40" stroke="#111" stroke-width="0.7" />
<line x1="481.54" y1="329.70" x2="481.54" y2="331.40" stroke="#111" stroke-width="0.7" />
<line x1="484.58" y1="329.70" x2="484.58" y2="331.40" stroke="#111" stroke-width="0.7" />
<line x1="487.15" y1="329.70" x2="487.15" y2="331.40" stroke="#111" stroke-width="0.7" />
<line x1="489.38" y1="329.70" x2="489.38" y2="331.40" stroke="#111" stroke-width="0.7" />
<line x1="491.34" y1="329.70" x2="491.34" y2="331.40" stroke="#111" stroke-width="0.7" />
<text x="383.70" y="350.50" font-size="9.1" fill="#1a1a1a" >MnCl<tspan font-size="6.5" dy="2.4">2</tspan><tspan dy="-2.4"> or MgCl</tspan><tspan font-size="6.5" dy="2.4">2</tspan><tspan dy="-2.4"> (μM)</tspan></text>
<text transform="translate(316.6,330) rotate(-90)" font-size="9.2" fill="#1a1a1a">c-di-GMP hydrolyzed (μM)</text>
<text x="362.30" y="231.20" font-size="9.6" fill="#5a5aee" >PA0285<tspan font-size="5.8" dy="3.6">317-760</tspan></text>
<text x="426.20" y="231.20" font-size="9.6" fill="#1fb51f" >PA0285<tspan font-size="5.8" dy="3.6">317-760, GAAAF</tspan></text>
<line x1="292.00" y1="367.00" x2="302.80" y2="367.00" stroke="#5a5aee" stroke-width="1.3" />
<circle cx="297.40" cy="367.00" r="1.7" fill="#5a5aee"/>
<text x="306.60" y="370.10" font-size="9.4" fill="#1a1a1a" >PA0285<tspan font-size="5.7" dy="3.4">317-760</tspan><tspan dy="-3.4"> + MnCl</tspan><tspan font-size="5.7" dy="3.4">2</tspan></text>
<line x1="405.90" y1="367.00" x2="416.70" y2="367.00" stroke="#1fb51f" stroke-width="1.3" />
<circle cx="411.30" cy="367.00" r="1.7" fill="#1fb51f"/>
<text x="420.50" y="370.10" font-size="9.4" fill="#1a1a1a" >PA0285<tspan font-size="5.7" dy="3.4">317-760, GAAAF</tspan><tspan dy="-3.4"> + MnCl</tspan><tspan font-size="5.7" dy="3.4">2</tspan></text>
<line x1="292.00" y1="380.90" x2="302.80" y2="380.90" stroke="#5a5aee" stroke-width="1.3" stroke-dasharray="2.5,2"/>
<rect x="295.60" y="379.20" width="3.4" height="3.4" fill="#5a5aee"/>
<text x="306.60" y="383.50" font-size="9.4" fill="#1a1a1a" >PA0285<tspan font-size="5.7" dy="3.4">317-760</tspan><tspan dy="-3.4"> + MgCl</tspan><tspan font-size="5.7" dy="3.4">2</tspan></text>
<line x1="405.90" y1="380.90" x2="416.70" y2="380.90" stroke="#1fb51f" stroke-width="1.3" stroke-dasharray="2.5,2"/>
<rect x="409.50" y="379.20" width="3.4" height="3.4" fill="#1fb51f"/>
<text x="420.50" y="383.50" font-size="9.4" fill="#1a1a1a" >PA0285<tspan font-size="5.7" dy="3.4">317-760, GAAAF</tspan><tspan dy="-3.4"> + MgCl</tspan><tspan font-size="5.7" dy="3.4">2</tspan></text>
<text x="537.60" y="221.20" font-size="18" fill="#000" font-weight="bold">E</text>
<text x="561.40" y="214.10" font-size="8.8" fill="#1a1a1a" >Binding of</text>
<text x="561.40" y="224.40" font-size="8.8" fill="#1a1a1a" >c-di-GMP</text>
<text x="624.00" y="214.50" font-size="9.6" fill="#5c5ce8" >PA0285<tspan font-size="5.8" dy="3">317-760</tspan></text>
<text x="626.00" y="229.90" font-size="9.6" fill="#5c5ce8" ><tspan font-style="italic">K</tspan><tspan font-size="6" dy="2.2" font-style="italic">d</tspan><tspan dy="-2.2"> = 1.5 μM</tspan></text>
<text x="689.70" y="214.50" font-size="9.6" fill="#1faa1f" >PA0285<tspan font-size="5.8" dy="3">317-760, GAAAF</tspan></text>
<text x="697.80" y="229.90" font-size="9.6" fill="#1faa1f" ><tspan font-style="italic">K</tspan><tspan font-size="6" dy="2.2" font-style="italic">d</tspan><tspan dy="-2.2"> = 20.6 μM</tspan></text>
<path d="M576.2,314.1 L699.3,314.1 M663.4,314.1 L663.4,365.7 M699.3,314.1 L699.3,365.7" stroke="#555" stroke-width="1.1" stroke-dasharray="3.5,2.6" fill="none"/>
<path d="M582.6,262.03 L590.6,262.78 L597.6,263.75 L604.1,265.02 L610.1,266.63 L615.6,268.57 L618.6,269.85 L621.1,271.06 L623.6,272.41 L626.1,273.91 L630.6,277.01 L634.6,280.22 L638.1,283.40 L641.6,286.92 L645.6,291.35 L649.1,295.52 L652.6,299.93 L664.6,315.82 L669.1,321.60 L673.6,327.04 L677.6,331.48 L680.1,334.05 L682.6,336.44 L687.1,340.30 L691.6,343.60 L694.1,345.20 L696.6,346.65 L699.1,347.95 L702.1,349.34 L704.6,350.36 L707.6,351.44 L710.6,352.38 L713.6,353.19 L720.1,354.57 L727.6,355.70 L735.6,356.49 L745.1,357.09 L757.1,357.52" stroke="#5c5ce8" stroke-width="1.3" fill="none" stroke-linejoin="round" stroke-linecap="round" />
<path d="M582.6,266.45 L601.6,266.71 L616.1,267.20 L627.6,267.97 L632.6,268.48 L637.1,269.07 L641.6,269.81 L645.6,270.64 L649.6,271.64 L653.1,272.70 L656.6,273.96 L660.1,275.44 L663.6,277.17 L666.6,278.89 L669.1,280.49 L671.6,282.26 L674.1,284.22 L676.6,286.36 L679.1,288.70 L681.6,291.23 L684.1,293.96 L686.6,296.88 L691.1,302.58 L695.6,308.78 L709.6,329.48 L714.6,336.61 L719.6,343.21 L724.6,349.13 L727.1,351.80 L729.6,354.28 L732.1,356.56 L734.6,358.65 L737.1,360.56 L739.6,362.28 L742.1,363.84 L745.1,365.50" stroke="#1faa1f" stroke-width="1.3" fill="none" stroke-linejoin="round" stroke-linecap="round" />
<circle cx="582.60" cy="275.50" r="2.1" fill="#1faa1f"/>
<line x1="582.60" y1="268.30" x2="582.60" y2="282.70" stroke="#1faa1f" stroke-width="1.3" />
<line x1="580.40" y1="268.30" x2="584.80" y2="268.30" stroke="#1faa1f" stroke-width="1.3" />
<line x1="580.40" y1="282.70" x2="584.80" y2="282.70" stroke="#1faa1f" stroke-width="1.3" />
<circle cx="594.80" cy="275.90" r="2.1" fill="#1faa1f"/>
<line x1="594.80" y1="269.20" x2="594.80" y2="282.60" stroke="#1faa1f" stroke-width="1.3" />
<line x1="592.60" y1="269.20" x2="597.00" y2="269.20" stroke="#1faa1f" stroke-width="1.3" />
<line x1="592.60" y1="282.60" x2="597.00" y2="282.60" stroke="#1faa1f" stroke-width="1.3" />
<circle cx="606.30" cy="269.00" r="2.1" fill="#1faa1f"/>
<line x1="606.30" y1="262.10" x2="606.30" y2="275.90" stroke="#1faa1f" stroke-width="1.3" />
<line x1="604.10" y1="262.10" x2="608.50" y2="262.10" stroke="#1faa1f" stroke-width="1.3" />
<line x1="604.10" y1="275.90" x2="608.50" y2="275.90" stroke="#1faa1f" stroke-width="1.3" />
<circle cx="617.80" cy="267.90" r="2.1" fill="#1faa1f"/>
<line x1="617.80" y1="260.20" x2="617.80" y2="275.60" stroke="#1faa1f" stroke-width="1.3" />
<line x1="615.60" y1="260.20" x2="620.00" y2="260.20" stroke="#1faa1f" stroke-width="1.3" />
<line x1="615.60" y1="275.60" x2="620.00" y2="275.60" stroke="#1faa1f" stroke-width="1.3" />
<circle cx="629.30" cy="273.60" r="2.1" fill="#1faa1f"/>
<line x1="629.30" y1="265.20" x2="629.30" y2="282.00" stroke="#1faa1f" stroke-width="1.3" />
<line x1="627.10" y1="265.20" x2="631.50" y2="265.20" stroke="#1faa1f" stroke-width="1.3" />
<line x1="627.10" y1="282.00" x2="631.50" y2="282.00" stroke="#1faa1f" stroke-width="1.3" />
<circle cx="641.20" cy="266.30" r="2.1" fill="#1faa1f"/>
<line x1="641.20" y1="263.30" x2="641.20" y2="269.30" stroke="#1faa1f" stroke-width="1.3" />
<line x1="639.00" y1="263.30" x2="643.40" y2="263.30" stroke="#1faa1f" stroke-width="1.3" />
<line x1="639.00" y1="269.30" x2="643.40" y2="269.30" stroke="#1faa1f" stroke-width="1.3" />
<circle cx="652.20" cy="270.20" r="2.1" fill="#1faa1f"/>
<line x1="652.20" y1="259.70" x2="652.20" y2="280.70" stroke="#1faa1f" stroke-width="1.3" />
<line x1="650.00" y1="259.70" x2="654.40" y2="259.70" stroke="#1faa1f" stroke-width="1.3" />
<line x1="650.00" y1="280.70" x2="654.40" y2="280.70" stroke="#1faa1f" stroke-width="1.3" />
<circle cx="663.70" cy="281.70" r="2.1" fill="#1faa1f"/>
<line x1="663.70" y1="276.20" x2="663.70" y2="287.20" stroke="#1faa1f" stroke-width="1.3" />
<line x1="661.50" y1="276.20" x2="665.90" y2="276.20" stroke="#1faa1f" stroke-width="1.3" />
<line x1="661.50" y1="287.20" x2="665.90" y2="287.20" stroke="#1faa1f" stroke-width="1.3" />
<circle cx="675.40" cy="279.40" r="2.1" fill="#1faa1f"/>
<line x1="675.40" y1="273.70" x2="675.40" y2="285.10" stroke="#1faa1f" stroke-width="1.3" />
<line x1="673.20" y1="273.70" x2="677.60" y2="273.70" stroke="#1faa1f" stroke-width="1.3" />
<line x1="673.20" y1="285.10" x2="677.60" y2="285.10" stroke="#1faa1f" stroke-width="1.3" />
<circle cx="687.10" cy="287.40" r="2.1" fill="#1faa1f"/>
<line x1="687.10" y1="282.00" x2="687.10" y2="292.80" stroke="#1faa1f" stroke-width="1.3" />
<line x1="684.90" y1="282.00" x2="689.30" y2="282.00" stroke="#1faa1f" stroke-width="1.3" />
<line x1="684.90" y1="292.80" x2="689.30" y2="292.80" stroke="#1faa1f" stroke-width="1.3" />
<circle cx="698.60" cy="311.60" r="2.1" fill="#1faa1f"/>
<line x1="698.60" y1="309.60" x2="698.60" y2="313.60" stroke="#1faa1f" stroke-width="1.3" />
<line x1="696.40" y1="309.60" x2="700.80" y2="309.60" stroke="#1faa1f" stroke-width="1.3" />
<line x1="696.40" y1="313.60" x2="700.80" y2="313.60" stroke="#1faa1f" stroke-width="1.3" />
<circle cx="710.30" cy="327.00" r="2.1" fill="#1faa1f"/>
<line x1="710.30" y1="322.00" x2="710.30" y2="332.00" stroke="#1faa1f" stroke-width="1.3" />
<line x1="708.10" y1="322.00" x2="712.50" y2="322.00" stroke="#1faa1f" stroke-width="1.3" />
<line x1="708.10" y1="332.00" x2="712.50" y2="332.00" stroke="#1faa1f" stroke-width="1.3" />
<circle cx="721.60" cy="342.30" r="2.1" fill="#1faa1f"/>
<line x1="721.60" y1="338.30" x2="721.60" y2="346.30" stroke="#1faa1f" stroke-width="1.3" />
<line x1="719.40" y1="338.30" x2="723.80" y2="338.30" stroke="#1faa1f" stroke-width="1.3" />
<line x1="719.40" y1="346.30" x2="723.80" y2="346.30" stroke="#1faa1f" stroke-width="1.3" />
<circle cx="745.50" cy="364.60" r="2.1" fill="#1faa1f"/>
<circle cx="582.60" cy="271.40" r="2.1" fill="#5c5ce8"/>
<line x1="582.60" y1="263.40" x2="582.60" y2="279.40" stroke="#5c5ce8" stroke-width="1.3" />
<line x1="580.40" y1="263.40" x2="584.80" y2="263.40" stroke="#5c5ce8" stroke-width="1.3" />
<line x1="580.40" y1="279.40" x2="584.80" y2="279.40" stroke="#5c5ce8" stroke-width="1.3" />
<circle cx="594.80" cy="266.80" r="2.1" fill="#5c5ce8"/>
<line x1="594.80" y1="260.50" x2="594.80" y2="273.10" stroke="#5c5ce8" stroke-width="1.3" />
<line x1="592.60" y1="260.50" x2="597.00" y2="260.50" stroke="#5c5ce8" stroke-width="1.3" />
<line x1="592.60" y1="273.10" x2="597.00" y2="273.10" stroke="#5c5ce8" stroke-width="1.3" />
<circle cx="606.30" cy="269.50" r="2.1" fill="#5c5ce8"/>
<line x1="606.30" y1="264.50" x2="606.30" y2="274.50" stroke="#5c5ce8" stroke-width="1.3" />
<line x1="604.10" y1="264.50" x2="608.50" y2="264.50" stroke="#5c5ce8" stroke-width="1.3" />
<line x1="604.10" y1="274.50" x2="608.50" y2="274.50" stroke="#5c5ce8" stroke-width="1.3" />
<circle cx="617.80" cy="280.50" r="2.1" fill="#5c5ce8"/>
<line x1="617.80" y1="274.70" x2="617.80" y2="286.30" stroke="#5c5ce8" stroke-width="1.3" />
<line x1="615.60" y1="274.70" x2="620.00" y2="274.70" stroke="#5c5ce8" stroke-width="1.3" />
<line x1="615.60" y1="286.30" x2="620.00" y2="286.30" stroke="#5c5ce8" stroke-width="1.3" />
<circle cx="629.30" cy="272.00" r="2.1" fill="#5c5ce8"/>
<circle cx="641.20" cy="287.90" r="2.1" fill="#5c5ce8"/>
<circle cx="652.20" cy="307.60" r="2.1" fill="#5c5ce8"/>
<line x1="652.20" y1="303.30" x2="652.20" y2="311.90" stroke="#5c5ce8" stroke-width="1.3" />
<line x1="650.00" y1="303.30" x2="654.40" y2="303.30" stroke="#5c5ce8" stroke-width="1.3" />
<line x1="650.00" y1="311.90" x2="654.40" y2="311.90" stroke="#5c5ce8" stroke-width="1.3" />
<circle cx="663.70" cy="316.10" r="2.1" fill="#5c5ce8"/>
<line x1="663.70" y1="313.10" x2="663.70" y2="319.10" stroke="#5c5ce8" stroke-width="1.3" />
<line x1="661.50" y1="313.10" x2="665.90" y2="313.10" stroke="#5c5ce8" stroke-width="1.3" />
<line x1="661.50" y1="319.10" x2="665.90" y2="319.10" stroke="#5c5ce8" stroke-width="1.3" />
<circle cx="675.60" cy="327.70" r="2.1" fill="#5c5ce8"/>
<line x1="675.60" y1="322.70" x2="675.60" y2="332.70" stroke="#5c5ce8" stroke-width="1.3" />
<line x1="673.40" y1="322.70" x2="677.80" y2="322.70" stroke="#5c5ce8" stroke-width="1.3" />
<line x1="673.40" y1="332.70" x2="677.80" y2="332.70" stroke="#5c5ce8" stroke-width="1.3" />
<circle cx="687.30" cy="340.40" r="2.1" fill="#5c5ce8"/>
<line x1="687.30" y1="336.90" x2="687.30" y2="343.90" stroke="#5c5ce8" stroke-width="1.3" />
<line x1="685.10" y1="336.90" x2="689.50" y2="336.90" stroke="#5c5ce8" stroke-width="1.3" />
<line x1="685.10" y1="343.90" x2="689.50" y2="343.90" stroke="#5c5ce8" stroke-width="1.3" />
<circle cx="699.10" cy="339.90" r="2.1" fill="#5c5ce8"/>
<line x1="699.10" y1="331.90" x2="699.10" y2="347.90" stroke="#5c5ce8" stroke-width="1.3" />
<line x1="696.90" y1="331.90" x2="701.30" y2="331.90" stroke="#5c5ce8" stroke-width="1.3" />
<line x1="696.90" y1="347.90" x2="701.30" y2="347.90" stroke="#5c5ce8" stroke-width="1.3" />
<circle cx="710.30" cy="344.60" r="2.1" fill="#5c5ce8"/>
<line x1="710.30" y1="339.60" x2="710.30" y2="349.60" stroke="#5c5ce8" stroke-width="1.3" />
<line x1="708.10" y1="339.60" x2="712.50" y2="339.60" stroke="#5c5ce8" stroke-width="1.3" />
<line x1="708.10" y1="349.60" x2="712.50" y2="349.60" stroke="#5c5ce8" stroke-width="1.3" />
<circle cx="721.60" cy="355.90" r="2.1" fill="#5c5ce8"/>
<line x1="721.60" y1="352.90" x2="721.60" y2="358.90" stroke="#5c5ce8" stroke-width="1.3" />
<line x1="719.40" y1="352.90" x2="723.80" y2="352.90" stroke="#5c5ce8" stroke-width="1.3" />
<line x1="719.40" y1="358.90" x2="723.80" y2="358.90" stroke="#5c5ce8" stroke-width="1.3" />
<circle cx="733.30" cy="362.20" r="2.1" fill="#5c5ce8"/>
<line x1="733.30" y1="360.20" x2="733.30" y2="364.20" stroke="#5c5ce8" stroke-width="1.3" />
<line x1="731.10" y1="360.20" x2="735.50" y2="360.20" stroke="#5c5ce8" stroke-width="1.3" />
<line x1="731.10" y1="364.20" x2="735.50" y2="364.20" stroke="#5c5ce8" stroke-width="1.3" />
<circle cx="745.50" cy="353.50" r="2.1" fill="#5c5ce8"/>
<line x1="745.50" y1="348.50" x2="745.50" y2="358.50" stroke="#5c5ce8" stroke-width="1.3" />
<line x1="743.30" y1="348.50" x2="747.70" y2="348.50" stroke="#5c5ce8" stroke-width="1.3" />
<line x1="743.30" y1="358.50" x2="747.70" y2="358.50" stroke="#5c5ce8" stroke-width="1.3" />
<circle cx="756.80" cy="361.50" r="2.1" fill="#5c5ce8"/>
<line x1="756.80" y1="357.00" x2="756.80" y2="366.00" stroke="#5c5ce8" stroke-width="1.3" />
<line x1="754.60" y1="357.00" x2="759.00" y2="357.00" stroke="#5c5ce8" stroke-width="1.3" />
<line x1="754.60" y1="366.00" x2="759.00" y2="366.00" stroke="#5c5ce8" stroke-width="1.3" />
<line x1="576.20" y1="231.00" x2="576.20" y2="366.30" stroke="#111" stroke-width="1.3" />
<line x1="575.60" y1="365.70" x2="768.80" y2="365.70" stroke="#111" stroke-width="1.3" />
<line x1="572.80" y1="365.70" x2="576.20" y2="365.70" stroke="#111" stroke-width="1.1" />
<text x="571.60" y="368.80" font-size="8.8" fill="#1a1a1a" text-anchor="end" >0</text>
<line x1="572.80" y1="339.95" x2="576.20" y2="339.95" stroke="#111" stroke-width="1.1" />
<text x="571.60" y="343.05" font-size="8.8" fill="#1a1a1a" text-anchor="end" >0.25</text>
<line x1="572.80" y1="314.20" x2="576.20" y2="314.20" stroke="#111" stroke-width="1.1" />
<text x="571.60" y="317.30" font-size="8.8" fill="#1a1a1a" text-anchor="end" >0.5</text>
<line x1="572.80" y1="288.45" x2="576.20" y2="288.45" stroke="#111" stroke-width="1.1" />
<text x="571.60" y="291.55" font-size="8.8" fill="#1a1a1a" text-anchor="end" >0.75</text>
<line x1="572.80" y1="262.70" x2="576.20" y2="262.70" stroke="#111" stroke-width="1.1" />
<text x="571.60" y="265.80" font-size="8.8" fill="#1a1a1a" text-anchor="end" >1.0</text>
<line x1="572.80" y1="236.95" x2="576.20" y2="236.95" stroke="#111" stroke-width="1.1" />
<text x="571.60" y="240.05" font-size="8.8" fill="#1a1a1a" text-anchor="end" >1.25</text>
<line x1="576.20" y1="365.70" x2="576.20" y2="368.80" stroke="#111" stroke-width="1.1" />
<text x="576.60" y="378.00" font-size="8.8" fill="#1a1a1a" text-anchor="middle" >10<tspan font-size="6.2" dy="-3.4">1</tspan></text>
<line x1="614.65" y1="365.70" x2="614.65" y2="368.80" stroke="#111" stroke-width="1.1" />
<text x="615.05" y="378.00" font-size="8.8" fill="#1a1a1a" text-anchor="middle" >10<tspan font-size="6.2" dy="-3.4">2</tspan></text>
<line x1="653.10" y1="365.70" x2="653.10" y2="368.80" stroke="#111" stroke-width="1.1" />
<text x="653.50" y="378.00" font-size="8.8" fill="#1a1a1a" text-anchor="middle" >10<tspan font-size="6.2" dy="-3.4">3</tspan></text>
<line x1="691.55" y1="365.70" x2="691.55" y2="368.80" stroke="#111" stroke-width="1.1" />
<text x="691.95" y="378.00" font-size="8.8" fill="#1a1a1a" text-anchor="middle" >10<tspan font-size="6.2" dy="-3.4">4</tspan></text>
<line x1="730.00" y1="365.70" x2="730.00" y2="368.80" stroke="#111" stroke-width="1.1" />
<text x="730.40" y="378.00" font-size="8.8" fill="#1a1a1a" text-anchor="middle" >10<tspan font-size="6.2" dy="-3.4">5</tspan></text>
<line x1="768.45" y1="365.70" x2="768.45" y2="368.80" stroke="#111" stroke-width="1.1" />
<text x="768.85" y="378.00" font-size="8.8" fill="#1a1a1a" text-anchor="middle" >10<tspan font-size="6.2" dy="-3.4">6</tspan></text>
<text x="637.80" y="389.30" font-size="9.7" fill="#1a1a1a" >c-di-GMP (nM)</text>
<text transform="translate(549.2,345.5) rotate(-90)" font-size="9.2" fill="#1a1a1a">Normalized fluorescense</text>
</svg></body></html>
